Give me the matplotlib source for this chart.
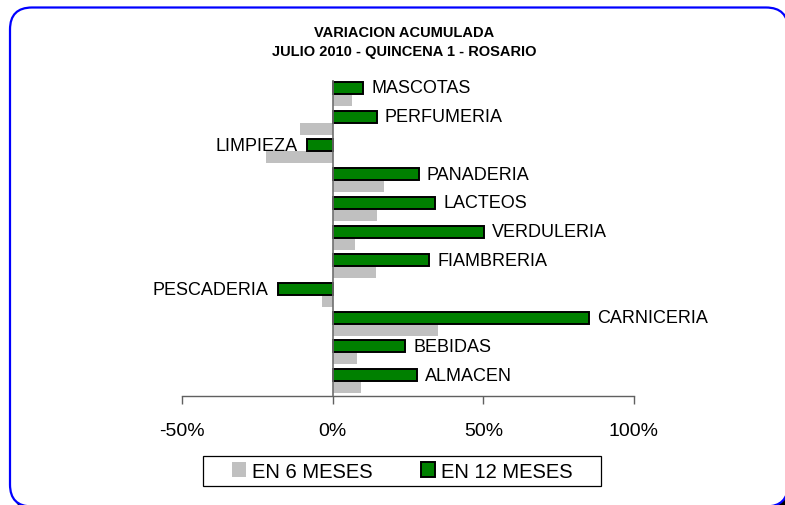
import matplotlib
matplotlib.use("Agg")
import matplotlib.pyplot as plt
import numpy as np
from matplotlib.patches import Patch, Rectangle, FancyBboxPatch

plt.rcParams['font.family'] = ['Liberation Sans', 'DejaVu Sans']

# Data (bottom to top)
categories = ["ALMACEN", "BEBIDAS", "CARNICERIA", "PESCADERIA", "FIAMBRERIA",
              "VERDULERIA", "LACTEOS", "PANADERIA", "LIMPIEZA", "PERFUMERIA", "MASCOTAS"]
var_12_meses = [28.0, 24.0, 85.0, -18.3, 32.0, 50.2, 34.0, 28.5, -8.6, 14.6, 10.2]
var_6_meses = [9.4, 8.0, 35.0, -3.5, 14.3, 7.3, 14.6, 17.0, -22.0, -10.9, 6.3]
x_ticks = [-50, 0, 50, 100]
title_lines = ["VARIACION ACUMULADA", "JULIO 2010 - QUINCENA 1 - ROSARIO"]
legend_labels = ["EN 6 MESES", "EN 12 MESES"]

W, H = 785, 506
fig = plt.figure(figsize=(W / 100, H / 100), dpi=100)
fig.patch.set_facecolor('white')

# background axes in pixel units for the rounded blue border
bg = fig.add_axes([0, 0, 1, 1], zorder=-1)
bg.set_xlim(0, W)
bg.set_ylim(0, H)
bg.axis('off')
bg.add_patch(FancyBboxPatch((14, -5.5), 778, 499, boxstyle="round,pad=0,rounding_size=22",
                            facecolor='black', edgecolor='black', linewidth=1.6))
bg.add_patch(FancyBboxPatch((10, -1.5), 778, 499, boxstyle="round,pad=0,rounding_size=22",
                            facecolor='white', edgecolor='#0000FF', linewidth=1.6))

ax_left, ax_right = 182 / W, 634 / W
ax_top, ax_bottom = 1 - 80.6 / H, 1 - 396.5 / H
ax = fig.add_axes([ax_left, ax_bottom, ax_right - ax_left, ax_top - ax_bottom])
ax.set_facecolor('none')

y = np.arange(len(categories))
h = 0.4167
ax.barh(y - h / 2, var_6_meses, height=h, color='#C0C0C0', edgecolor='none', zorder=2)
ax.barh(y + h / 2, var_12_meses, height=h, color='#008000', edgecolor='black',
        linewidth=1.4, zorder=3)
ax.axvline(0, color='#707070', linewidth=1.2, zorder=4)

for yi, v, name in zip(y, var_12_meses, categories):
    if v >= 0:
        ax.annotate(name, xy=(v, yi + h / 2), xytext=(6, 0), textcoords='offset points',
                    ha='left', va='center', fontsize=13)
    else:
        ax.annotate(name, xy=(v, yi + h / 2), xytext=(-6.5, 0), textcoords='offset points',
                    ha='right', va='center', fontsize=13)

ax.set_xlim(-50, 100)
ax.set_ylim(-0.5, len(categories) - 0.5)
ax.set_xticks(x_ticks)
ax.set_xticklabels([f"{t}%" for t in x_ticks], fontsize=14)
ax.set_yticks([])
for s in ['left', 'top', 'right']:
    ax.spines[s].set_visible(False)
ax.spines['bottom'].set_color('#606060')
ax.spines['bottom'].set_linewidth(1.0)
ax.tick_params(axis='x', direction='out', length=6, width=1.0, color='#606060', pad=13)

# title
fig.text(404 / W, 1 - 33 / H, title_lines[0], ha='center', va='center',
         fontsize=10.5, fontweight='bold')
fig.text(404 / W, 1 - 52 / H, title_lines[1], ha='center', va='center',
         fontsize=10.5, fontweight='bold')

# legend frame
fig.patches.append(Rectangle((203 / W, 1 - 487 / H), 398 / W, 30 / H,
                             transform=fig.transFigure, facecolor='none',
                             edgecolor='black', linewidth=0.9, zorder=1))
handles = [Patch(facecolor='#C0C0C0', edgecolor='none'),
           Patch(facecolor='#008000', edgecolor='black', linewidth=1.4)]
fig.legend(handles, legend_labels, loc='center', bbox_to_anchor=(402.5 / W, 1 - 472 / H),
           ncol=2, frameon=False, fontsize=14.5, handlelength=0.7, handleheight=0.7,
           handletextpad=0.3, columnspacing=2.4, borderpad=0.1)

fig.savefig("out.png", dpi=100)
